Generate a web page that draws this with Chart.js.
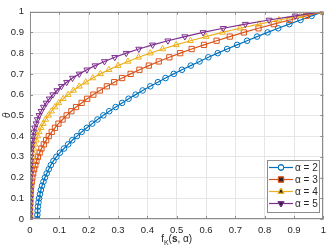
<!DOCTYPE html>
<html lang="en">
<head>
<meta charset="UTF-8">
<title>theta vs f_K</title>
<script src="https://cdn.jsdelivr.net/npm/chart.js@4.4.0/dist/chart.umd.min.js"></script>
<style>
  body { margin: 0; background: #fff; }
</style>
</head>
<body>
<canvas id="myChart" width="332" height="249"></canvas>
<script>
// theta sample grid (y values)
const thetaVals = [0,0.02,0.04,0.06,0.08,0.1,0.12,0.14,0.16,0.18,0.2,0.22,0.24,0.26,0.28,0.3,0.32,0.34,0.36,0.38,0.4,0.42,0.44,0.46,0.48,0.5,0.52,0.54,0.56,0.58,0.6,0.62,0.64,0.66,0.68,0.7,0.72,0.74,0.76,0.78,0.8,0.82,0.84,0.86,0.88,0.9,0.92,0.94,0.96,0.98,1];

// f_K(s, alpha), one per theta
const fAlpha2 = [0.025,0.025,0.026,0.027,0.029,0.031,0.034,0.037,0.041,0.046,0.051,0.057,0.064,0.071,0.080,0.090,0.102,0.116,0.130,0.144,0.160,0.176,0.194,0.212,0.230,0.250,0.270,0.292,0.314,0.336,0.360,0.384,0.410,0.436,0.462,0.490,0.518,0.548,0.578,0.608,0.640,0.672,0.706,0.740,0.774,0.810,0.846,0.884,0.922,0.960,1];
const fAlpha3 = [0,0,0,0,0.001,0.001,0.002,0.003,0.004,0.006,0.008,0.011,0.014,0.018,0.022,0.027,0.033,0.039,0.047,0.055,0.064,0.074,0.085,0.097,0.111,0.125,0.141,0.157,0.176,0.195,0.216,0.238,0.262,0.287,0.314,0.343,0.373,0.405,0.439,0.475,0.512,0.551,0.593,0.636,0.681,0.729,0.779,0.831,0.885,0.941,1];
const fAlpha4 = [0,0,0,0,0,0,0,0,0.001,0.001,0.002,0.002,0.003,0.005,0.006,0.008,0.010,0.013,0.017,0.021,0.026,0.031,0.037,0.045,0.053,0.063,0.073,0.085,0.098,0.113,0.130,0.148,0.168,0.190,0.214,0.240,0.269,0.300,0.334,0.370,0.410,0.452,0.498,0.547,0.600,0.656,0.716,0.781,0.849,0.922,1];
const fAlpha5 = [0,0,0,0,0,0,0,0,0,0,0,0.001,0.001,0.001,0.002,0.002,0.003,0.005,0.006,0.008,0.010,0.013,0.016,0.021,0.025,0.031,0.038,0.046,0.055,0.066,0.078,0.092,0.107,0.125,0.145,0.168,0.194,0.222,0.254,0.289,0.328,0.371,0.418,0.470,0.528,0.590,0.659,0.734,0.815,0.904,1];

const seriesLabels = ['α = 2', 'α = 3', 'α = 4', 'α = 5'];
const seriesData = [fAlpha2, fAlpha3, fAlpha4, fAlpha5];
const colors = ['#0072BD', '#D95319', '#EDB120', '#7E2F8E'];
const markers = ['circle', 'rect', 'triangle', 'triangle'];
const rotations = [0, 0, 0, 180];
const radii = [2.8, 3.7, 3.5, 3.5];

Chart.defaults.font.family = "'Liberation Sans', Arial, sans-serif";
Chart.defaults.color = '#262626';

const datasets = seriesData.map((f, i) => ({
  label: seriesLabels[i],
  data: f.map((v, k) => ({ x: v, y: thetaVals[k] })),
  showLine: true,
  borderColor: colors[i],
  backgroundColor: 'rgba(0,0,0,0)',
  borderWidth: 1.2,
  pointStyle: markers[i],
  pointRotation: rotations[i],
  pointRadius: radii[i],
  pointBorderWidth: 1,
  pointBorderColor: colors[i],
  pointBackgroundColor: 'rgba(0,0,0,0)',
  order: 3 - i
}));

const tickText = v => String(Number(v.toFixed(1)));

// box, inward ticks, axis titles and the legend inside the plot
const decorations = {
  id: 'decorations',
  afterDraw(chart) {
    const { ctx, chartArea: a, scales: { x, y } } = chart;
    ctx.save();
    ctx.strokeStyle = '#8c8c8c';
    ctx.lineWidth = 1;
    const seg = (x1, y1, x2, y2) => { ctx.beginPath(); ctx.moveTo(x1, y1); ctx.lineTo(x2, y2); ctx.stroke(); };
    x.ticks.forEach(t => {
      const px = Math.round(x.getPixelForValue(t.value)) + 0.5;
      seg(px, a.bottom, px, a.bottom - 3);
      seg(px, a.top, px, a.top + 3);
    });
    y.ticks.forEach(t => {
      const py = Math.round(y.getPixelForValue(t.value)) + 0.5;
      seg(a.left, py, a.left + 3, py);
      seg(a.right, py, a.right - 3, py);
    });
    ctx.strokeRect(Math.round(a.left) + 0.5, Math.round(a.top) + 0.5, Math.round(a.width) - 1, Math.round(a.height) - 1);

    // x title: f_K(s, α)
    ctx.fillStyle = '#262626';
    ctx.textBaseline = 'alphabetic';
    ctx.textAlign = 'left';
    const fam = "'Liberation Sans', Arial, sans-serif";
    const parts = [
      ['f', '10px ' + fam, 0],
      ['K', '7px ' + fam, 2.5],
      ['(', '10px ' + fam, 0],
      ['s', 'bold 10px ' + fam, 0],
      [', α)', '10px ' + fam, 0]
    ];
    let w = 0;
    parts.forEach(p => { ctx.font = p[1]; w += ctx.measureText(p[0]).width; });
    let cx = (a.left + a.right) / 2 - w / 2;
    parts.forEach(p => { ctx.font = p[1]; ctx.fillText(p[0], cx, 242 + p[2]); cx += ctx.measureText(p[0]).width; });

    // y title
    ctx.save();
    ctx.translate(7, (a.top + a.bottom) / 2);
    ctx.rotate(-Math.PI / 2);
    ctx.font = 'italic 10px ' + fam;
    ctx.textAlign = 'center';
    ctx.textBaseline = 'middle';
    ctx.fillText('θ', 0, 0);
    ctx.restore();

    // legend
    const lx = 267, ly = 160, lw = 52, lh = 52;
    ctx.fillStyle = '#fff';
    ctx.fillRect(lx, ly, lw, lh);
    ctx.strokeStyle = '#8c8c8c';
    ctx.strokeRect(lx + 0.5, ly + 0.5, lw, lh);
    ctx.font = '10px ' + fam;
    ctx.textBaseline = 'middle';
    seriesLabels.forEach((lab, i) => {
      const ry = ly + 7.5 + i * 12;
      ctx.strokeStyle = colors[i];
      ctx.lineWidth = 1.2;
      seg(lx + 2, ry, lx + 26, ry);
      ctx.lineWidth = 1;
      Chart.helpers.drawPoint(ctx, { pointStyle: markers[i], rotation: rotations[i], radius: radii[i], borderWidth: 1 }, lx + 14, ry);
      ctx.stroke();
      ctx.fillStyle = '#262626';
      ctx.fillText(lab, lx + 28, ry + 0.5);
    });
    ctx.restore();
  }
};

new Chart(document.getElementById('myChart'), {
  type: 'scatter',
  data: { datasets: datasets },
  options: {
    responsive: false,
    animation: false,
    layout: { padding: { top: 5, right: 6 } },
    plugins: { legend: { display: false }, tooltip: { enabled: false } },
    scales: {
      x: {
        type: 'linear', min: 0, max: 1,
        afterFit: s => { s.height = 30; },
        ticks: { stepSize: 0.1, padding: 6, font: { size: 9.5 }, maxRotation: 0, callback: tickText },
        grid: { color: '#e6e6e6', drawTicks: false },
        border: { display: false }
      },
      y: {
        type: 'linear', min: 0, max: 1,
        afterFit: s => { s.width = 30; },
        ticks: { stepSize: 0.1, padding: 6, font: { size: 9.5 }, callback: tickText },
        grid: { color: '#e6e6e6', drawTicks: false },
        border: { display: false }
      }
    }
  },
  plugins: [decorations]
});
</script>
</body>
</html>
